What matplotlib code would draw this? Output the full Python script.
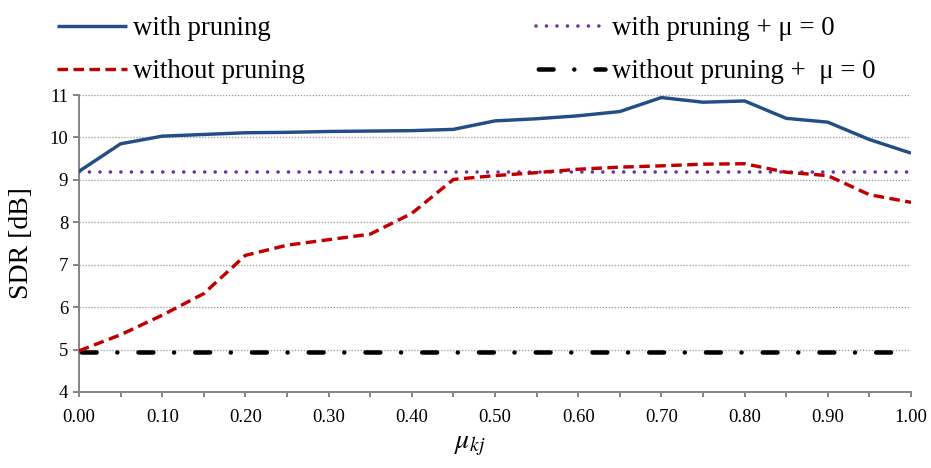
import matplotlib
matplotlib.use("Agg")
import matplotlib.pyplot as plt
from matplotlib.ticker import MultipleLocator, FormatStrFormatter
import numpy as np

plt.rcParams['font.family'] = ['Liberation Serif', 'DejaVu Serif']
plt.rcParams['mathtext.fontset'] = 'stix'

# data
mu = [0.00, 0.05, 0.10, 0.15, 0.20, 0.25, 0.30, 0.35, 0.40, 0.45, 0.50,
      0.55, 0.60, 0.65, 0.70, 0.75, 0.80, 0.85, 0.90, 0.95, 1.00]
with_pruning = [9.20, 9.85, 10.03, 10.07, 10.11, 10.12, 10.14, 10.15, 10.16, 10.19, 10.39,
                10.44, 10.51, 10.61, 10.94, 10.83, 10.86, 10.45, 10.36, 9.95, 9.63]
without_pruning = [4.97, 5.35, 5.81, 6.32, 7.22, 7.46, 7.59, 7.72, 8.21, 9.01, 9.10,
                   9.17, 9.25, 9.30, 9.33, 9.37, 9.38, 9.18, 9.10, 8.65, 8.47]
with_pruning_mu0 = [9.18] * len(mu)
without_pruning_mu0 = [4.95] * len(mu)

labels = ['with pruning', 'without pruning',
          'with pruning + \u03bc = 0', 'without pruning +  \u03bc = 0']

W, H = 931, 468
fig = plt.figure(figsize=(W / 100, H / 100), dpi=100)
ax = fig.add_axes([79 / W, 1 - 392 / H, (911 - 79) / W, (392 - 95) / H])

px = 72 / 100  # points per pixel

l1, = ax.plot(mu, with_pruning, color='#234E85', lw=3.4 * px, solid_capstyle='butt', zorder=4)
l2, = ax.plot(mu, without_pruning, color='#C00000', lw=3.4 * px,
              linestyle=(0, (3.1, 1.6)), dash_capstyle='butt', zorder=4)
l3, = ax.plot(mu, with_pruning_mu0, color='#7030A0', lw=3.6 * px,
              linestyle=(0, (0.01, 2.9)), dash_capstyle='round', zorder=3)
l4, = ax.plot(mu, without_pruning_mu0, color='black', lw=4.5 * px,
              linestyle=(-0.5, (3.3, 4.6, 0.01, 4.7)), dash_capstyle='round', zorder=3)

ax.set_xlim(0, 1)
ax.set_ylim(4, 11)
ax.xaxis.set_major_locator(MultipleLocator(0.1))
ax.xaxis.set_minor_locator(MultipleLocator(0.05))
ax.xaxis.set_major_formatter(FormatStrFormatter('%.2f'))
ax.yaxis.set_major_locator(MultipleLocator(1))

ax.grid(axis='y', color='#9A9A9A', lw=1.3 * px, linestyle=(0, (1, 1.3)))
ax.set_axisbelow(True)

for s in ['top', 'right']:
    ax.spines[s].set_visible(False)
for s in ['left', 'bottom']:
    ax.spines[s].set_color('#878787')
    ax.spines[s].set_linewidth(2 * px)

ax.tick_params(axis='both', which='both', direction='out', color='#878787',
               width=2 * px, labelsize=13.5)
ax.tick_params(axis='y', length=6 * px, pad=3.5)
ax.tick_params(axis='x', which='both', length=5 * px, pad=9)

ax.set_ylabel('SDR [dB]', fontsize=20, va='center')
ax.yaxis.set_label_coords((21.7 - 79) / 832, 0.5)
ax.set_xlabel(r'$\mu_{kj}$', fontsize=20, va='center')
ax.xaxis.set_label_coords(0.47, (392 - 445) / 297)

fig.legend([l1, l2, l3, l4], labels, ncol=2, loc='upper left',
           bbox_to_anchor=(57 / W, 1 - 16 / H), frameon=False, fontsize=19.3,
           borderpad=0, borderaxespad=0, handlelength=2.6, handletextpad=0.25,
           columnspacing=8.6, labelspacing=0.68)

fig.savefig('out.png', dpi=100)
